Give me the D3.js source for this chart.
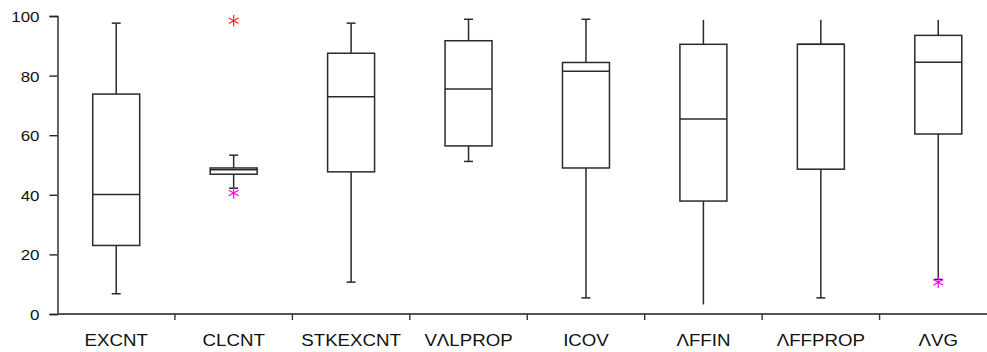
<!DOCTYPE html>
<html>
<head>
<meta charset="utf-8">
<script src="https://cdnjs.cloudflare.com/ajax/libs/d3/7.8.5/d3.min.js"></script>
<style>
  body { margin: 0; background: #fff; }
  svg { display: block; }
  text { font-family: "Liberation Sans", Arial, sans-serif; fill: #111; }
</style>
</head>
<body>
<div id="chart"></div>
<script>
// box plot values
var categories = ['EXCNT', 'CLCNT', 'STKEXCNT', 'VΛLPROP', 'ICOV', 'ΛFFIN', 'ΛFFPROP', 'ΛVG'];
var whiskerLow  = [6.8, 42.2, 10.7, 51.2, 5.4, 3.2, 5.4, 11.6];
var q1          = [23.0, 46.9, 47.7, 56.4, 49.0, 37.9, 48.6, 60.4];
var median      = [40.1, 48.4, 72.9, 75.5, 81.5, 65.4, 90.5, 84.5];
var q3          = [73.8, 49.0, 87.5, 91.7, 84.4, 90.5, 90.5, 93.5];
var whiskerHigh = [97.6, 53.3, 97.6, 98.9, 98.9, 98.7, 98.7, 98.7];
var capLow      = [true, true, true, true, true, false, true, true];
var capHigh     = [true, true, true, true, true, false, false, false];
var outlierCat  = ['CLCNT', 'CLCNT', 'ΛVG'];
var outlierVal  = [98.4, 40.6, 10.6];
var outlierKind = ['extreme', 'mild', 'mild'];
var yTicks = [0, 20, 40, 60, 80, 100];

var width = 987, height = 352;
var margin = { top: 16, left: 57.5, bottom: 38 };

var svg = d3.select('#chart').append('svg')
  .attr('width', width)
  .attr('height', height);

var x = d3.scaleBand()
  .domain(categories)
  .range([margin.left, 997]);

var y = d3.scaleLinear()
  .domain([0, 100])
  .range([height - margin.bottom, margin.top]);

var boxW = x.bandwidth() * 0.4;
var capW = 9;

var data = categories.map(function(c, i) {
  return { cat: c, lo: whiskerLow[i], q1: q1[i], med: median[i], q3: q3[i], hi: whiskerHigh[i],
           capLo: capLow[i], capHi: capHigh[i] };
});

// y axis
var yAxis = d3.axisLeft(y).tickValues(yTicks).tickSize(8).tickPadding(10);
var gy = svg.append('g').attr('transform', 'translate(' + margin.left + ',0)').call(yAxis);
gy.select('.domain').attr('stroke', '#222').attr('stroke-width', 1.4);
gy.selectAll('.tick line').attr('stroke', '#222').attr('stroke-width', 1.4);
gy.selectAll('.tick text')
  .attr('font-size', 15)
  .attr('dy', '0.36em')
  .each(function() {
    var t = d3.select(this);
    t.attr('transform', 'translate(' + (+t.attr('x')) + ',0) scale(1.13,1) translate(' + (-t.attr('x')) + ',0)');
  });

// x axis
var xAxisY = y(0);
svg.append('line')
  .attr('x1', margin.left).attr('x2', width)
  .attr('y1', xAxisY).attr('y2', xAxisY)
  .attr('stroke', '#555').attr('stroke-width', 2);

svg.selectAll('.xtick')
  .data(categories.slice(1))
  .enter().append('line')
  .attr('class', 'xtick')
  .attr('x1', function(d) { return x(d); })
  .attr('x2', function(d) { return x(d); })
  .attr('y1', xAxisY).attr('y2', xAxisY + 6)
  .attr('stroke', '#333').attr('stroke-width', 1.4);

svg.selectAll('.xlabel')
  .data(categories)
  .enter().append('text')
  .attr('class', 'xlabel')
  .attr('text-anchor', 'middle')
  .attr('font-size', 17)
  .attr('transform', function(d) {
    return 'translate(' + (x(d) + x.bandwidth() / 2) + ',' + (xAxisY + 32) + ') scale(1.1,1)';
  })
  .text(function(d) { return d; });

// boxes
var g = svg.selectAll('.box')
  .data(data)
  .enter().append('g')
  .attr('class', 'box')
  .attr('transform', function(d) { return 'translate(' + (x(d.cat) + x.bandwidth() / 2) + ',0)'; });

var stroke = '#2a2a2a';

g.append('line')
  .attr('x1', 0).attr('x2', 0)
  .attr('y1', function(d) { return y(d.hi); })
  .attr('y2', function(d) { return y(d.q3); })
  .attr('stroke', stroke).attr('stroke-width', 1.5);

g.append('line')
  .attr('x1', 0).attr('x2', 0)
  .attr('y1', function(d) { return y(d.q1); })
  .attr('y2', function(d) { return y(d.lo); })
  .attr('stroke', stroke).attr('stroke-width', 1.5);

g.filter(function(d) { return d.capHi; }).append('line')
  .attr('x1', -capW / 2).attr('x2', capW / 2)
  .attr('y1', function(d) { return y(d.hi); })
  .attr('y2', function(d) { return y(d.hi); })
  .attr('stroke', stroke).attr('stroke-width', 1.5);

g.filter(function(d) { return d.capLo; }).append('line')
  .attr('x1', -capW / 2).attr('x2', capW / 2)
  .attr('y1', function(d) { return y(d.lo); })
  .attr('y2', function(d) { return y(d.lo); })
  .attr('stroke', stroke).attr('stroke-width', 1.5);

g.append('rect')
  .attr('x', -boxW / 2)
  .attr('width', boxW)
  .attr('y', function(d) { return y(d.q3); })
  .attr('height', function(d) { return y(d.q1) - y(d.q3); })
  .attr('fill', '#fff')
  .attr('stroke', stroke).attr('stroke-width', 1.5);

g.append('line')
  .attr('x1', -boxW / 2).attr('x2', boxW / 2)
  .attr('y1', function(d) { return y(d.med); })
  .attr('y2', function(d) { return y(d.med); })
  .attr('stroke', stroke).attr('stroke-width', 1.5);

// outliers
var star = d3.symbol().type(d3.symbolAsterisk).size(90);
svg.selectAll('.outlier')
  .data(outlierCat.map(function(c, i) { return { cat: c, v: outlierVal[i], kind: outlierKind[i] }; }))
  .enter().append('path')
  .attr('class', 'outlier')
  .attr('d', star)
  .attr('transform', function(d) {
    return 'translate(' + (x(d.cat) + x.bandwidth() / 2) + ',' + y(d.v) + ')';
  })
  .attr('fill', 'none')
  .attr('stroke', function(d) { return d.kind === 'extreme' ? '#ff2a2a' : '#ff00ff'; })
  .attr('stroke-width', 1.2);
</script>
</body>
</html>
